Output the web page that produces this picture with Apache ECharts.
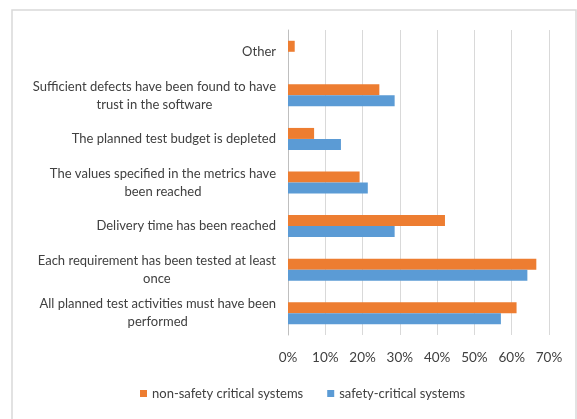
<!DOCTYPE html>
<html>
<head>
<meta charset="utf-8">
<script src="https://cdn.jsdelivr.net/npm/echarts@6/dist/echarts.min.js"></script>
<style>
  html, body { margin: 0; padding: 0; background: #fff; }
  #chart { width: 577px; height: 419px; }
</style>
</head>
<body>
<div id="chart"></div>
<script>
// categories, bottom to top
const categories = [
  "All planned test activities must have been\nperformed",
  "Each requirement has been tested at least\nonce",
  "Delivery time has been reached",
  "The values specified in the metrics have\nbeen reached",
  "The planned test budget is depleted",
  "Sufficient defects have been found to have\ntrust in the software",
  "Other",
];
const nonSafety = [61.3, 66.6, 42.1, 19.2, 7.0, 24.5, 1.8];
const safetyCritical = [57.1, 64.2, 28.6, 21.4, 14.2, 28.6, 0];
const xTicks = { min: 0, max: 70, step: 10 };

const chart = echarts.init(document.getElementById("chart"));

const font = "Lato";
const textColor = "#404040";

chart.setOption({
  animation: false,
  textStyle: { fontFamily: font },
  graphic: [
    {
      type: "rect",
      shape: { x: 12, y: 10, width: 564, height: 420 },
      style: { fill: "none", stroke: "#d9d9d9", lineWidth: 1.5 },
      silent: true,
    },
  ],
  legend: {
    bottom: 14,
    left: 135,
    icon: "rect",
    itemWidth: 7,
    itemHeight: 7,
    itemGap: 24,
    data: ["non-safety critical systems", "safety-critical systems"],
    textStyle: { fontFamily: font, fontSize: 13, color: textColor },
  },
  grid: { left: 288, right: 28, top: 30, bottom: 84 },
  xAxis: {
    type: "value",
    min: xTicks.min,
    max: xTicks.max,
    interval: xTicks.step,
    axisLine: { show: false },
    axisTick: { show: false },
    splitLine: { lineStyle: { color: "#d9d9d9", width: 1 } },
    axisLabel: {
      formatter: "{value}%",
      margin: 16,
      fontFamily: font,
      fontSize: 13.5,
      color: textColor,
    },
  },
  yAxis: {
    type: "category",
    data: categories,
    axisTick: { show: false },
    axisLine: { show: true, lineStyle: { color: "#bfbfbf" } },
    axisLabel: {
      margin: 12,
      fontFamily: font,
      fontSize: 13,
      color: textColor,
      lineHeight: 18,
      formatter: (v) => v.split("\n").map((l) => "{c|" + l + "}").join("\n"),
      rich: {
        c: { align: "center", fontFamily: font, fontSize: 13, color: textColor, lineHeight: 18 },
      },
    },
  },
  series: [
    {
      name: "non-safety critical systems",
      type: "bar",
      data: nonSafety,
      barWidth: 11,
      barGap: "0%",
      itemStyle: { color: "#ed7d31" },
    },
    {
      name: "safety-critical systems",
      type: "bar",
      data: safetyCritical,
      barWidth: 11,
      barGap: "0%",
      itemStyle: { color: "#5b9bd5" },
    },
  ],
});
</script>
</body>
</html>
